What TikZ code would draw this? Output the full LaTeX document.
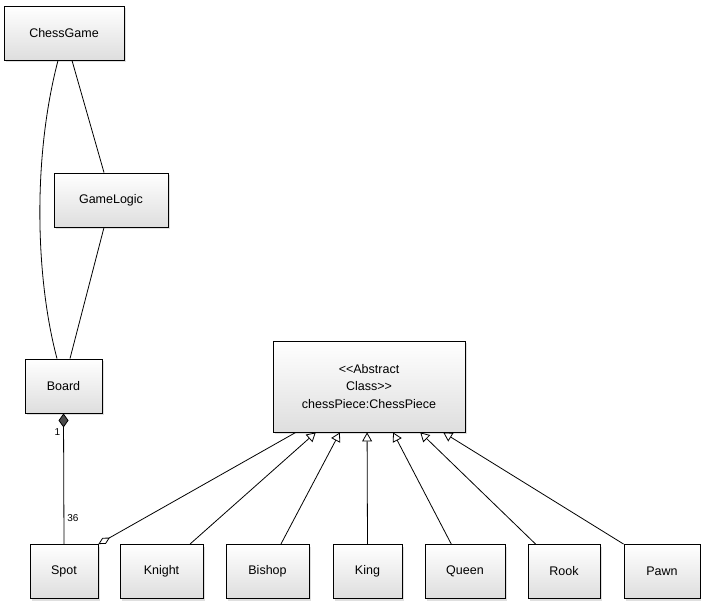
\documentclass[tikz,border=0pt]{standalone}
\usepackage{fontspec}
\setmainfont{Liberation Sans}
\usetikzlibrary{arrows.meta,shadows,calc}
\begin{document}
\begin{tikzpicture}[x=1pt,y=-1pt,
	cls/.style={draw, line width=0.9pt, top color=white, bottom color=black!13,
		drop shadow={opacity=0.25,shadow xshift=2pt,shadow yshift=-2pt},
		minimum height=54pt, inner sep=2pt, align=center,
		font=\fontsize{12.5}{17.5}\selectfont},
	link/.style={line width=0.8pt},
	isa/.style={link, -{Triangle[open,length=9pt,width=10pt]}},
	mult/.style={font=\fontsize{10}{11}\selectfont, inner sep=3pt}]
	\useasboundingbox (0,0) rectangle (701,605);
	
	\node[cls, minimum width=120pt] (game) at (64,33) {ChessGame};
	\node[cls, minimum width=114pt] (logic) at (111,200) {GameLogic};
	\node[cls, minimum width=77pt] (board) at (63.5,386) {Board};
	\node[cls, minimum width=192pt, minimum height=91pt] (piece) at (369,386.5) {<{}<Abstract\\Class>{}>\\chessPiece:ChessPiece};
	
	\node[cls, minimum width=68pt] (spot) at (64,571.5) {Spot};
	\node[cls, minimum width=83pt] (knight) at (161.5,571.5) {Knight};
	\node[cls, minimum width=83pt] (bishop) at (267.5,571.5) {Bishop};
	\node[cls, minimum width=69pt] (king) at (367.5,571.5) {King};
	\node[cls, minimum width=80pt] (queen) at (465,571.5) {Queen};
	\node[cls, minimum width=72pt] (rook) at (564,571.5) {Rook};
	\node[cls, minimum width=76pt] (pawn) at (662,571.5) {Pawn};
	
	\draw[link] ($(game.south)+(-6,0)$) .. controls (32,160) and (36,280) .. ($(board.north)+(-6.5,0)$);
	\draw[link] ($(game.south)+(8,0)$) -- ($(logic.north)+(-7,0)$);
	\draw[link] ($(logic.south)+(-7,0)$) -- ($(board.north)+(6.5,0)$);
	\draw[link, {Diamond[length=14pt,width=10pt,fill=black!70]}-] (board.south) -- (spot.north)
		node[mult, pos=0.14, left] {1} node[mult, pos=0.8, right] {36};
	
	\draw[link, {Diamond[open,length=13pt,width=7pt]}-] (spot.north east) -- ($(piece.south west)!0.12!(piece.south east)$);
	\draw[isa] ($(knight.north west)!0.84!(knight.north east)$) -- ($(piece.south west)!0.224!(piece.south east)$);
	\draw[isa] ($(bishop.north west)!0.66!(bishop.north east)$) -- ($(piece.south west)!0.349!(piece.south east)$);
	\draw[isa] (king.north) -- ($(piece.south west)!0.49!(piece.south east)$);
	\draw[isa] ($(queen.north west)!0.33!(queen.north east)$) -- ($(piece.south west)!0.625!(piece.south east)$);
	\draw[isa] ($(rook.north west)!0.11!(rook.north east)$) -- ($(piece.south west)!0.766!(piece.south east)$);
	\draw[isa] (pawn.north west) -- ($(piece.south west)!0.885!(piece.south east)$);
	
\end{tikzpicture}
\end{document}
